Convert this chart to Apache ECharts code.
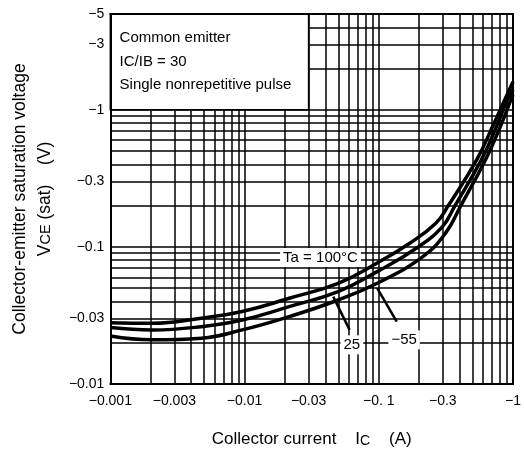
<!DOCTYPE html>
<html>
<head>
<meta charset="utf-8">
<script src="https://cdn.jsdelivr.net/npm/echarts@6/dist/echarts.min.js"></script>
<style>
  html, body { margin: 0; padding: 0; background: #fff; }
  #chart { width: 524px; height: 455px; }
</style>
</head>
<body>
<div id="chart"></div>
<script>
// VCE(sat) - IC, magnitudes plotted on log axes (labels carry the minus sign)
const xTickValues = [0.001, 0.003, 0.01, 0.03, 0.1, 0.3, 1]
const xTickLabels = ['−0.001', '−0.003', '−0.01', '−0.03', '−0. 1', '−0.3', '−1']
const yTickValues = [0.01, 0.03, 0.1, 0.3, 1, 3, 5]
const yTickLabels = ['−0.01', '−0.03', '−0.1', '−0.3', '−1', '−3', '−5']

// grid lines (1..9 per decade)
const xGridLines = [0.002, 0.003, 0.004, 0.005, 0.006, 0.007, 0.008, 0.009, 0.01,
  0.02, 0.03, 0.04, 0.05, 0.06, 0.07, 0.08, 0.09, 0.1,
  0.2, 0.3, 0.4, 0.5, 0.6, 0.7, 0.8, 0.9]
const yGridLines = [0.02, 0.03, 0.04, 0.05, 0.06, 0.07, 0.08, 0.09, 0.1,
  0.2, 0.3, 0.4, 0.5, 0.6, 0.7, 0.8, 0.9, 1, 2, 3, 4]

// curves: [IC magnitude (A), VCE(sat) magnitude (V)]
const ta100 = [[0.001, 0.0280], [0.00206, 0.0277], [0.00476, 0.0302], [0.0096, 0.0338],
  [0.0215, 0.0422], [0.0498, 0.0543], [0.0973, 0.0764], [0.170, 0.1064], [0.266, 0.1489],
  [0.326, 0.197], [0.536, 0.431], [0.704, 0.755], [0.861, 1.163], [1.0, 1.6]]
const ta25 = [[0.001, 0.0258], [0.00206, 0.0248], [0.00476, 0.0262], [0.0096, 0.0293],
  [0.0215, 0.0367], [0.0498, 0.0472], [0.0973, 0.0660], [0.1905, 0.0978], [0.298, 0.1406],
  [0.366, 0.197], [0.581, 0.431], [0.753, 0.755], [0.906, 1.18], [1.0, 1.40]]
const taM55 = [[0.001, 0.0224], [0.00206, 0.0210], [0.00476, 0.0216], [0.0096, 0.0248],
  [0.0215, 0.0310], [0.0498, 0.0410], [0.0973, 0.0543], [0.213, 0.0850], [0.315, 0.1265],
  [0.405, 0.197], [0.623, 0.431], [0.805, 0.755], [0.964, 1.18], [1.0, 1.287]]

// annotation positions (data coords)
const curveLabels = [
  { name: 'Ta = 100°C', coord: [0.0368, 0.0838] },
  { name: '25', coord: [0.063, 0.0193] },
  { name: '−55', coord: [0.1545, 0.0210] }
]
const leaders = [
  [[0.0606, 0.0248], [0.0458, 0.0434]],
  [[0.136, 0.0285], [0.0973, 0.0500]]
]
const noteLines = ['Common emitter', 'IC/IB = 30', 'Single nonrepetitive pulse']

const X_MIN = 0.001, X_MAX = 1, Y_MIN = 0.01, Y_MAX = 5
const FONT = 'Liberation Sans, Arial, Helvetica, sans-serif'

function pickLabel(values, labels, v) {
  let best = 0
  let bestD = Infinity
  values.forEach((t, i) => {
    const d = Math.abs(Math.log10(v) - Math.log10(t))
    if (d < bestD) { bestD = d; best = i }
  })
  return labels[best]
}

function frameAxis(pos, isX) {
  return {
    type: 'log',
    logBase: 10,
    position: pos,
    min: isX ? X_MIN : Y_MIN,
    max: isX ? X_MAX : Y_MAX,
    z: 8,
    axisLine: { show: true, onZero: false, lineStyle: { color: '#000', width: 2 } },
    axisTick: { show: false },
    axisLabel: { show: false },
    splitLine: { show: false },
    minorSplitLine: { show: false }
  }
}

const curveStyle = { color: '#000', width: 3.5 }

function curve(name, data) {
  return {
    name: name,
    type: 'line',
    z: 4,
    smooth: 0.45,
    symbol: 'none',
    lineStyle: curveStyle,
    data: data
  }
}

// grid lines as explicit segments across the plot
const gridSegments = xGridLines.map(v => [{ coord: [v, Y_MIN] }, { coord: [v, Y_MAX] }])
  .concat(yGridLines.map(v => [{ coord: [X_MIN, v] }, { coord: [X_MAX, v] }]))

const myChart = echarts.init(document.getElementById('chart'), null, { renderer: 'canvas' })
const option = {
  backgroundColor: '#fff',
  animation: false,
  textStyle: { fontFamily: FONT },
  grid: { left: 107, right: 5, top: 14, bottom: 71, show: false },
  xAxis: [
    {
      type: 'log',
      logBase: 10,
      min: X_MIN,
      max: X_MAX,
      position: 'bottom',
      z: 8,
      name: 'Collector current    I{s|C}    (A)',
      nameLocation: 'middle',
      nameGap: 47,
      nameTextStyle: {
        fontSize: 17, color: '#000', fontFamily: FONT,
        rich: { s: { fontSize: 14, color: '#000', fontFamily: FONT, padding: [3, 0, 0, 0] } }
      },
      axisLine: { show: true, onZero: false, lineStyle: { color: '#000', width: 2 } },
      axisTick: { show: false },
      splitLine: { show: false },
      axisLabel: {
        customValues: xTickValues,
        margin: 10,
        fontSize: 14,
        color: '#000',
        fontFamily: FONT,
        formatter: v => pickLabel(xTickValues, xTickLabels, v)
      }
    },
    frameAxis('top', true)
  ],
  yAxis: [
    {
      type: 'log',
      logBase: 10,
      min: Y_MIN,
      max: Y_MAX,
      position: 'left',
      z: 8,
      name: 'Collector-emitter saturation voltage\nV{s|CE} (sat)    (V)',
      nameLocation: 'middle',
      nameRotate: 90,
      nameGap: 49,
      nameTextStyle: {
        fontSize: 17.5, color: '#000', fontFamily: FONT, lineHeight: 25,
        rich: { s: { fontSize: 14.5, color: '#000', fontFamily: FONT, lineHeight: 25 } }
      },
      axisLine: { show: true, onZero: false, lineStyle: { color: '#000', width: 2 } },
      axisTick: { show: false },
      splitLine: { show: false },
      axisLabel: {
        customValues: yTickValues,
        margin: 6,
        fontSize: 14,
        color: '#000',
        fontFamily: FONT,
        formatter: v => pickLabel(yTickValues, yTickLabels, v)
      }
    },
    frameAxis('right', false)
  ],
  series: [
    {
      name: 'grid',
      type: 'line',
      z: 1,
      silent: true,
      data: [],
      markLine: {
        z: 1,
        silent: true,
        symbol: ['none', 'none'],
        animation: false,
        label: { show: false },
        lineStyle: { color: '#000', width: 1.5, type: 'solid', opacity: 1 },
        emphasis: { disabled: true },
        data: gridSegments
      }
    },
    {
      name: 'note',
      type: 'line',
      z: 2,
      silent: true,
      data: [],
      markArea: {
        z: 2,
        silent: true,
        itemStyle: { color: '#fff', opacity: 1, borderColor: '#000', borderWidth: 1.5 },
        emphasis: { disabled: true },
        label: {
          show: true,
          position: [10, 13],
          color: '#000',
          fontSize: 15,
          lineHeight: 23.5,
          fontFamily: FONT,
          formatter: noteLines.join('\n')
        },
        data: [[{ coord: [X_MIN, Y_MAX] }, { coord: [0.03, 1] }]]
      }
    },
    curve('Ta = 100°C', ta100),
    curve('25', ta25),
    curve('-55', taM55),
    {
      name: 'labels',
      type: 'line',
      z: 6,
      silent: true,
      data: [],
      markLine: {
        z: 6,
        silent: true,
        symbol: ['none', 'none'],
        label: { show: false },
        lineStyle: { color: '#000', width: 2.5, type: 'solid' },
        emphasis: { disabled: true },
        data: leaders.map(l => [{ coord: l[0] }, { coord: l[1] }])
      },
      markPoint: {
        z: 6,
        silent: true,
        symbol: 'rect',
        symbolSize: 1,
        itemStyle: { color: 'rgba(0,0,0,0)' },
        label: {
          show: true,
          position: 'inside',
          formatter: '{b}',
          color: '#000',
          fontSize: 15,
          fontFamily: FONT,
          backgroundColor: '#fff',
          padding: [2, 3]
        },
        data: curveLabels.map(d => ({ name: d.name, coord: d.coord }))
      }
    }
  ]
}
myChart.setOption(option)
window.onresize = myChart.resize
</script>
</body>
</html>
